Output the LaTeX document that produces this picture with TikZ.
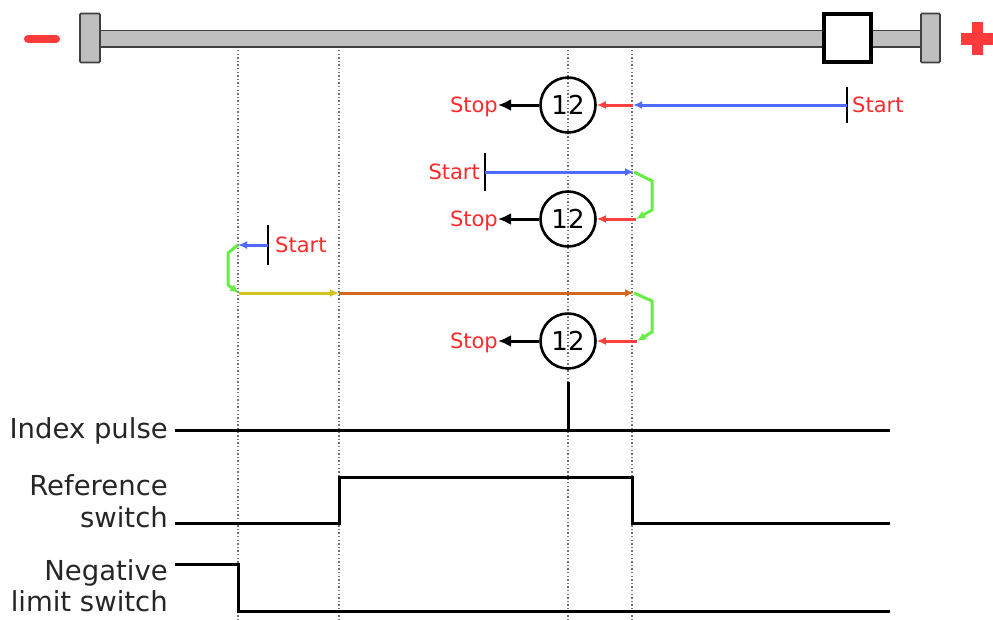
\documentclass[tikz,border=0pt]{standalone}
\usepackage{fontspec}
\setmainfont{DejaVu Sans}
\usetikzlibrary{arrows.meta}
\definecolor{stopred}{HTML}{FF2A2A}
\definecolor{lineblue}{HTML}{4F6BFF}
\definecolor{linegreen}{HTML}{66EE44}
\definecolor{lineyellow}{HTML}{D4C21E}
\definecolor{lineorange}{HTML}{D2691E}
\definecolor{linered}{HTML}{FF4040}
\definecolor{rodgray}{HTML}{BFBFBF}
\definecolor{roddark}{HTML}{404040}
\definecolor{signred}{HTML}{FF3B3B}
\begin{document}
\begin{tikzpicture}[x=1pt,y=-1pt,
  lbl/.style={font=\fontsize{27.5}{32}\selectfont, anchor=base east, inner sep=0pt, text=black!85},
  redlbl/.style={font=\fontsize{21}{25}\selectfont, text=stopred, inner sep=0pt},
  num/.style={draw, circle, line width=2.6pt, minimum size=55pt, inner sep=0pt, font=\fontsize{26}{30}\selectfont},
  guide/.style={black!55, line width=1.4pt, dash pattern=on 1.4pt off 2.2pt},
  sig/.style={line width=3pt},
  conn/.style={line width=3pt, -{Latex[length=9pt,width=8pt]}},
  tickmark/.style={line width=2.8pt},
  stoparr/.style={line width=3pt, -{Latex[length=13pt,width=12pt]}},
  capbox/.style={fill=rodgray, draw=roddark, line width=1.6pt, rounded corners=1pt}
]
\useasboundingbox (0,0) rectangle (993,619);
% guides
\foreach \gx in {238,339,568,632} \draw[guide] (\gx,50) -- (\gx,619);
% axis
\draw[signred, line width=8pt, line cap=round] (28,39) -- (56,39);
\draw[signred, line width=12pt] (961,39) -- (993,39);
\draw[signred, line width=11.5pt] (977.5,22) -- (977.5,55);
\draw[fill=rodgray, draw=roddark, line width=1.6pt] (100,30.5) rectangle (922,47);
\draw[capbox] (80,13.5) rectangle (100,62.5);
\draw[capbox] (921,13.5) rectangle (940,62.5);
\draw[fill=white, draw=black, line width=3.2pt] (824,14) rectangle (871,62);

% row 1
\node[num] (c1) at (568,105) {12};
\node[redlbl, anchor=base east] (stop1) at (498,112) {Stop};
\draw[stoparr] (c1) -- (c1 -| stop1.east) ;
\coordinate (s1) at (847,105);
\draw[tickmark] ([yshift=18pt]s1) -- ([yshift=-18pt]s1);
\node[redlbl, anchor=base west] (start1) at (852,112) {Start};
\coordinate (g1) at (633,105);
\draw[conn, lineblue] (s1) -- (g1);
\draw[conn, linered] (g1) -- (c1);

% row 2
\node[num] (c2) at (568,219) {12};
\node[redlbl, anchor=base east] (stop2) at (498,226) {Stop};
\draw[stoparr] (c2) -- (c2 -| stop2.east);
\coordinate (s2) at (485,172);
\draw[tickmark] ([yshift=19pt]s2) -- ([yshift=-19pt]s2);
\node[redlbl, anchor=base east] (start2) at (480,179) {Start};
\coordinate (g2a) at (634,172);
\coordinate (g2b) at (636,219);
\draw[conn, lineblue] (s2) -- (g2a);
\draw[conn, linegreen] (g2a) -- (652,181) -- (652,210) -- (g2b);
\draw[conn, linered] (g2b) -- (c2);

% row 3
\node[num] (c3) at (568,341) {12};
\node[redlbl, anchor=base east] (stop3) at (498,348) {Stop};
\draw[stoparr] (c3) -- (c3 -| stop3.east);
\coordinate (s3) at (268,245);
\draw[tickmark] ([yshift=20pt]s3) -- ([yshift=-20pt]s3);
\node[redlbl, anchor=base west] (start3) at (275,252) {Start};
\coordinate (g3a) at (238,245);
\coordinate (g3b) at (239,293);
\coordinate (r3) at (339,293);
\coordinate (g3c) at (634,293);
\coordinate (g3d) at (637,341);
\draw[conn, lineblue] (s3) -- (g3a);
\draw[conn, linegreen] (g3a) -- (228,253) -- (228,285) -- (g3b);
\draw[conn, lineyellow] (g3b) -- (r3);
\draw[conn, lineorange] (r3) -- (g3c);
\draw[conn, linegreen] (g3c) -- (652,301) -- (652,332) -- (g3d);
\draw[conn, linered] (g3d) -- (c3);

% signals
\node[lbl] (lidx) at (168,438) {Index pulse};
\node[lbl] (lref1) at (168,495) {Reference};
\node[lbl] (lref2) at (168,527) {switch};
\node[lbl] (lneg1) at (168,580) {Negative};
\node[lbl] (lneg2) at (168,611) {limit switch};
\draw[sig] (175,430) -- (890,430);
\draw[sig] (568,382) -- (568,430);
\draw[sig] (175,523) -| (339,477) -| (632,523) -- (890,523);
\draw[sig] (175,564) -| (238,611) -- (890,611);
\end{tikzpicture}
\end{document}
